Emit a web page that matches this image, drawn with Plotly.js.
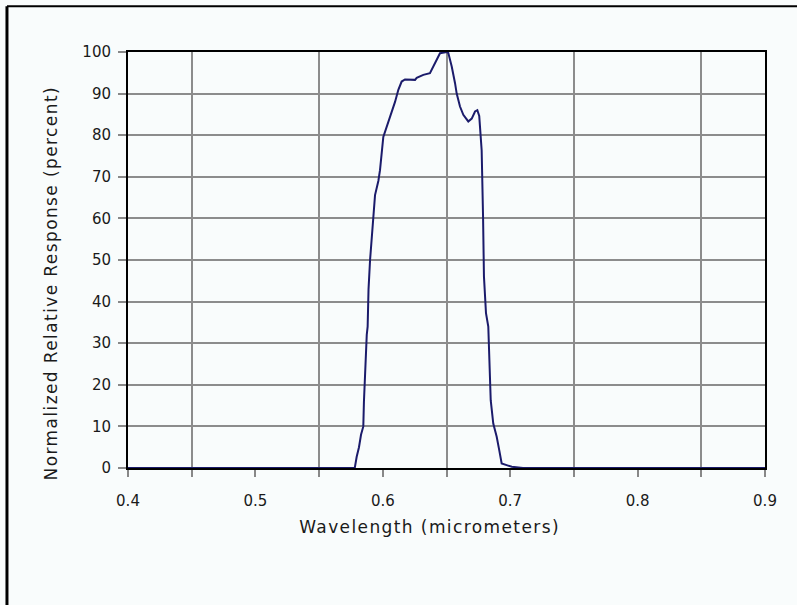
<!DOCTYPE html>
<html>
<head>
<meta charset="utf-8">
<script src="https://cdn.plot.ly/plotly-3.0.1.min.js"></script>
<style>
  html, body { margin: 0; padding: 0; background: #f9fcfc; }
  #chart { width: 797px; height: 605px; }
  #chart .annotation-text { letter-spacing: 1.4px; }
</style>
</head>
<body>
<div id="chart"></div>
<script>
const wavelength = [0.40, 0.578, 0.5795, 0.5813, 0.5829, 0.5847, 0.5852, 0.5866, 0.5874, 0.5881, 0.5888, 0.5900, 0.5913, 0.5925, 0.5939, 0.5965, 0.5978, 0.6004, 0.6031, 0.6056, 0.6082, 0.6096, 0.6122, 0.6148, 0.6174, 0.6253, 0.6266, 0.6318, 0.6370, 0.6396, 0.6423, 0.6449, 0.6502, 0.6514, 0.6541, 0.6553, 0.6567, 0.6580, 0.6593, 0.6606, 0.6632, 0.6671, 0.6698, 0.6724, 0.6742, 0.6757, 0.6776, 0.6784, 0.6787, 0.6794, 0.6810, 0.6828, 0.6834, 0.6847, 0.6867, 0.6894, 0.6914, 0.6933, 0.6972, 0.7012, 0.71, 0.90];
const response = [0, 0, 2.7, 5, 8, 10, 16, 27, 32, 34, 43, 50, 55.6, 60.4, 65.6, 69, 71.6, 79.6, 82, 84.5, 86.5, 88, 90.9, 92.9, 93.4, 93.3, 93.8, 94.5, 94.9, 96.5, 98, 99.7, 100, 99.8, 96.5, 95, 92.5, 90, 88.5, 86.9, 84.9, 83.3, 84, 85.7, 86, 84.6, 76.4, 66.8, 60.4, 46, 37.2, 34, 26.8, 16.3, 10.7, 7.5, 4.3, 1.1, 0.7, 0.3, 0, 0];
const xTickVals = [0.4, 0.5, 0.6, 0.7, 0.8, 0.9];
const xTickText = ['0.4', '0.5', '0.6', '0.7', '0.8', '0.9'];
const xTitle = 'Wavelength (micrometers)';
const yTitle = 'Normalized Relative Response (percent)';

const tickFont = { family: 'DejaVu Sans, sans-serif', size: 15, color: '#1a1a1a' };
const titleFont = { family: 'DejaVu Sans, sans-serif', size: 17, color: '#1a1a1a' };

const trace = {
  x: wavelength, y: response, type: 'scatter', mode: 'lines',
  line: { color: '#1b1b6b', width: 2 }, hoverinfo: 'skip'
};

const layout = {
  width: 797, height: 605,
  margin: { l: 128, r: 32, t: 52, b: 137 },
  paper_bgcolor: '#f9fcfc', plot_bgcolor: '#f9fcfc',
  font: tickFont, showlegend: false,
  xaxis: {
    range: [0.4, 0.9], tickvals: xTickVals, ticktext: xTickText,
    showgrid: false, zeroline: false,
    showline: true, linecolor: '#000', linewidth: 2, mirror: true,
    ticks: 'outside', ticklen: 7, tickcolor: '#888', tickwidth: 2,
    tickfont: tickFont, ticklabelstandoff: 11,
    minor: { tick0: 0.45, dtick: 0.1, showgrid: true, gridcolor: '#8c8c8c', gridwidth: 2, ticks: 'outside', ticklen: 7, tickcolor: '#888', tickwidth: 2 }
  },
  yaxis: {
    range: [0, 100], dtick: 10, tick0: 0,
    showgrid: true, gridcolor: '#8c8c8c', gridwidth: 2, zeroline: false,
    showline: true, linecolor: '#000', linewidth: 2, mirror: true,
    ticks: 'outside', ticklen: 8, tickcolor: '#888', tickwidth: 2,
    tickfont: tickFont, ticklabelstandoff: 4
  },
  annotations: [
    { text: xTitle, xref: 'paper', yref: 'paper', x: 0.474, y: -0.142, xanchor: 'center', yanchor: 'middle', showarrow: false, font: titleFont },
    { text: yTitle, xref: 'paper', yref: 'paper', x: -0.121, y: 0.445, xanchor: 'center', yanchor: 'middle', textangle: -90, showarrow: false, font: titleFont }
  ],
  shapes: [
    { type: 'line', xref: 'paper', yref: 'paper', x0: -0.190, x1: 1.1, y0: 1.11, y1: 1.11, line: { color: '#000', width: 2 } },
    { type: 'line', xref: 'paper', yref: 'paper', x0: -0.190, x1: -0.190, y0: 1.11, y1: -0.33, line: { color: '#000', width: 3 } }
  ]
};

Plotly.newPlot('chart', [trace], layout, { displayModeBar: false, staticPlot: true });
</script>
</body>
</html>
